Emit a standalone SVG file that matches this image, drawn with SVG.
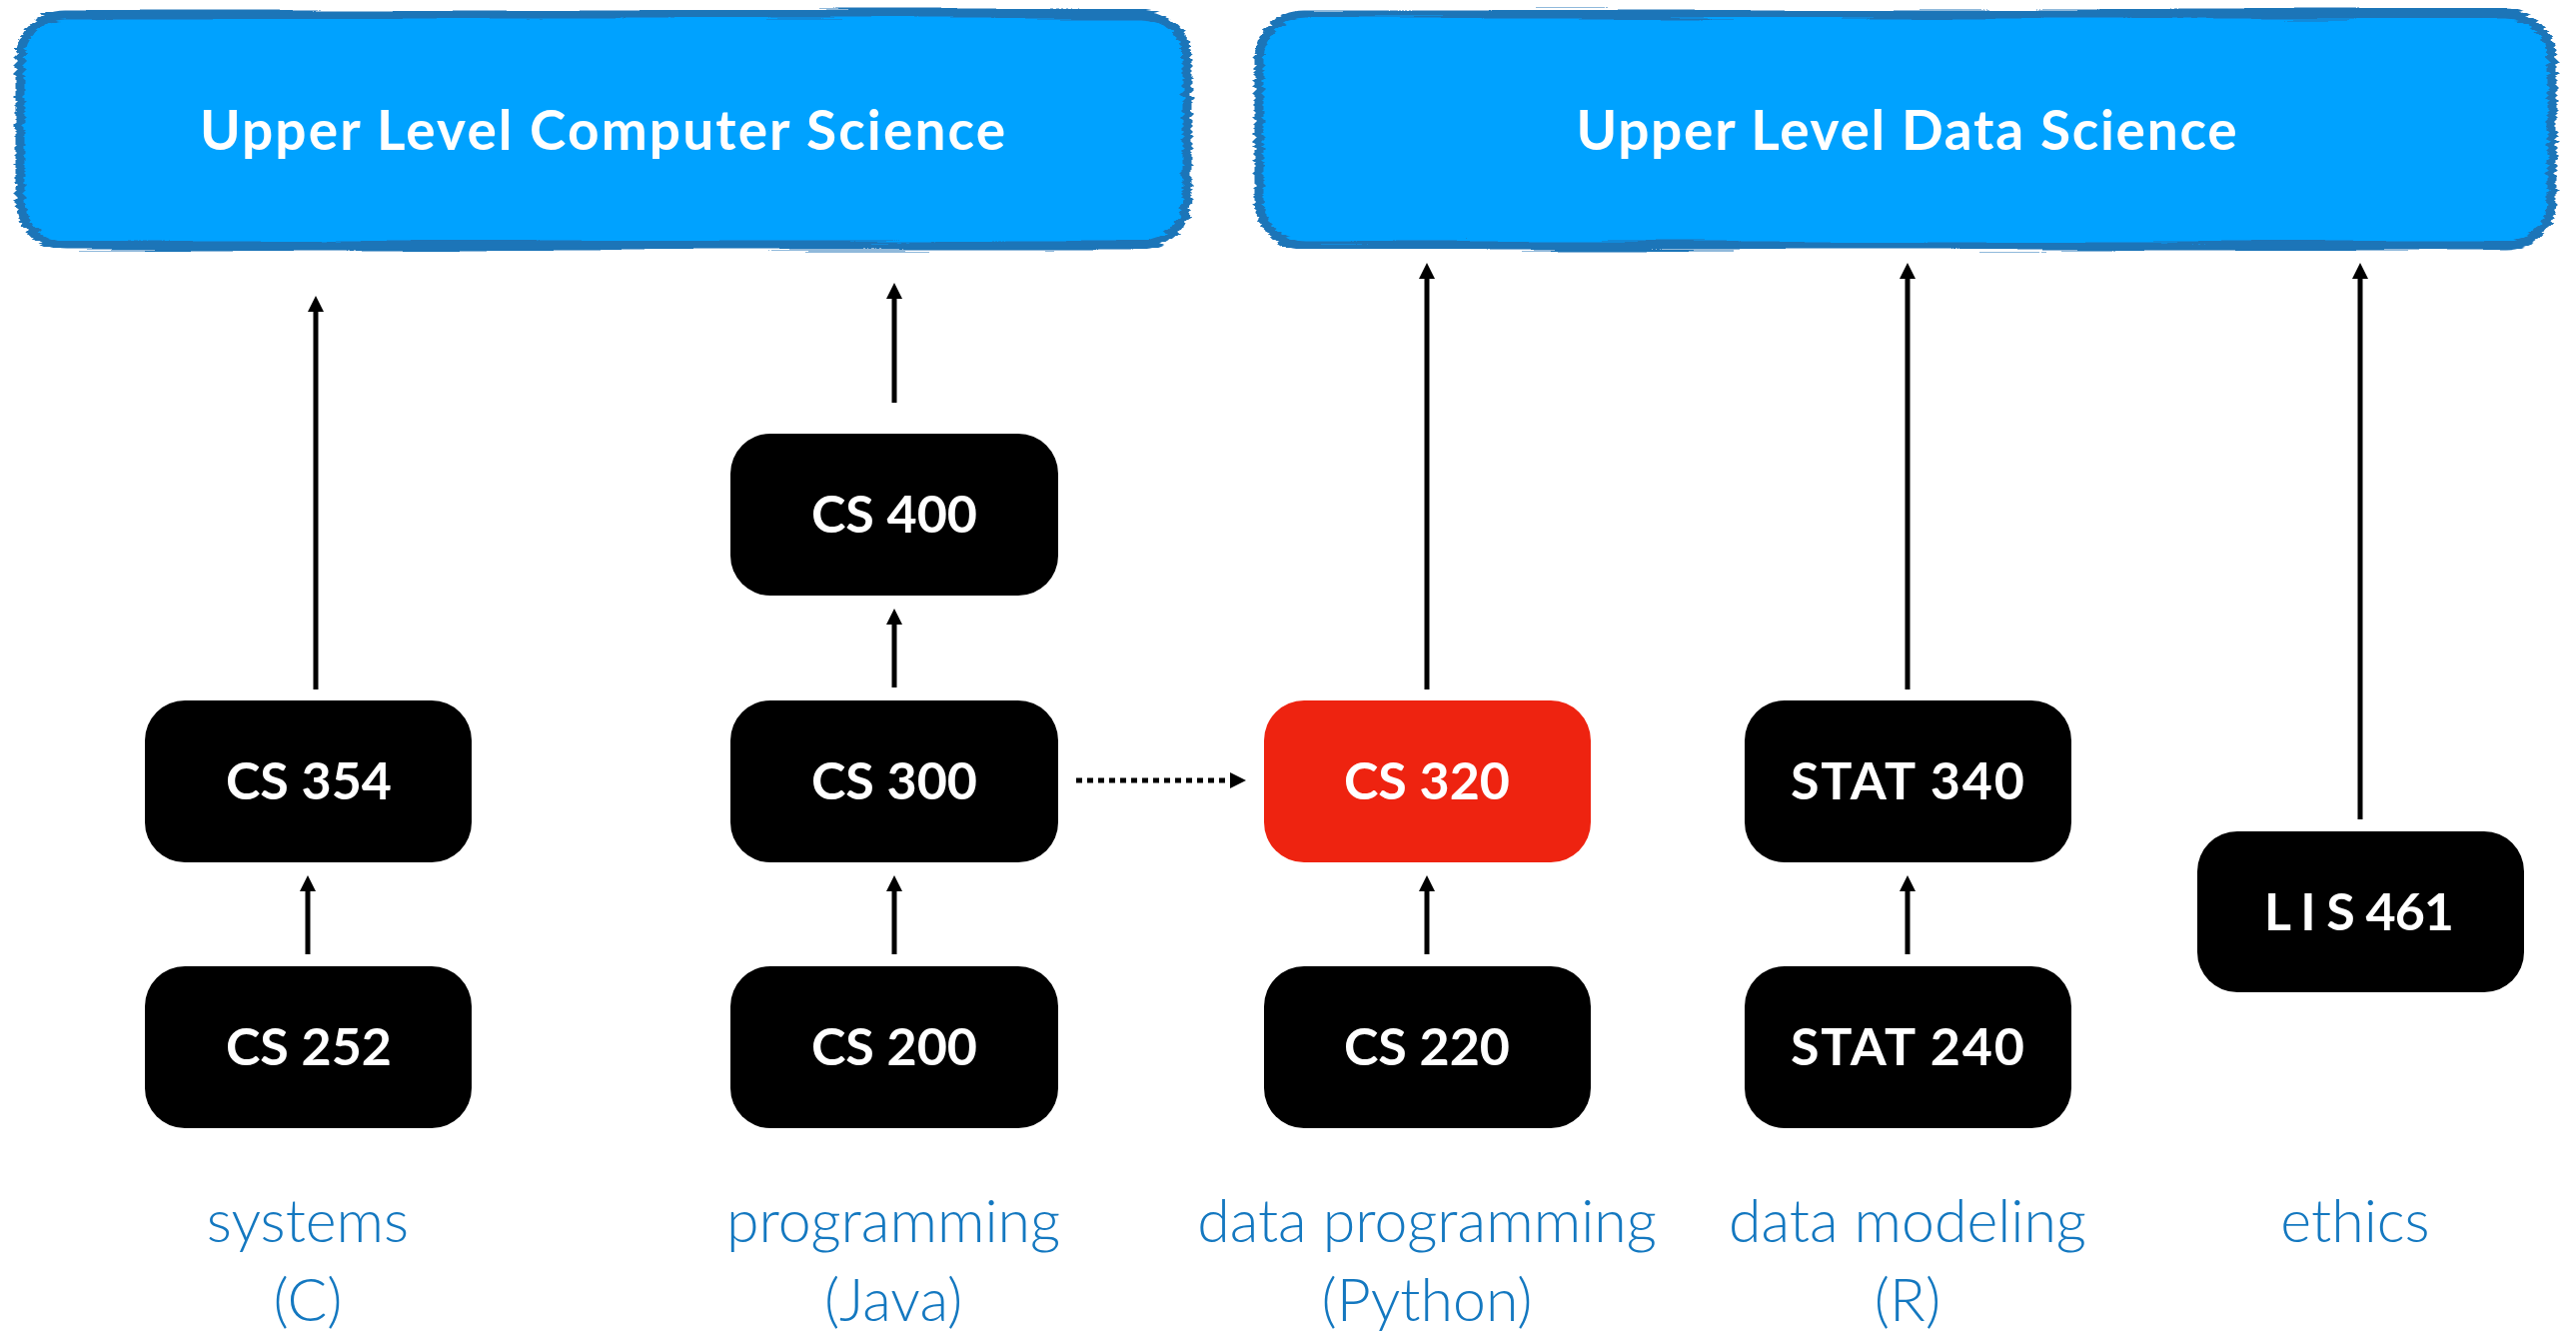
<svg xmlns="http://www.w3.org/2000/svg" width="2578" height="1334" viewBox="0 0 2578 1334">
  <style>
    .banner-fill { fill: #00A2FF; }
    .banner-edge { fill: none; stroke: #1F74B8; stroke-width: 9; }
    .banner-text { font-family: Lato, "Open Sans", "Liberation Sans", sans-serif; font-weight: 700; font-size: 55px; fill: #FFFFFF; text-anchor: middle; }
    .node rect { fill: #000000; }
    .node.hl rect { fill: #EE2310; }
    .node text { font-family: Lato, "Open Sans", "Liberation Sans", sans-serif; font-weight: 700; font-size: 52px; fill: #FFFFFF; text-anchor: middle; }
    .track { font-family: Lato, "Open Sans", "Liberation Sans", sans-serif; font-weight: 300; font-size: 59px; fill: #1478C0; text-anchor: middle; }
    .edge { stroke: #000000; stroke-width: 5; fill: none; }
    .edge.dotted { stroke-dasharray: 6 5; }
  </style>
  <defs>
    <marker id="head" viewBox="0 0 16 16" refX="0" refY="8" markerWidth="16" markerHeight="16" markerUnits="userSpaceOnUse" orient="auto">
      <path d="M0,0 L16,8 L0,16 z" fill="#000000"/>
    </marker>
    <filter id="brush" x="-3%" y="-10%" width="106%" height="120%">
      <feTurbulence type="fractalNoise" baseFrequency="0.004 0.25" numOctaves="2" seed="7" result="n"/>
      <feDisplacementMap in="SourceGraphic" in2="n" scale="10" xChannelSelector="R" yChannelSelector="G"/>
    </filter>
  </defs>

  <!-- destination banners -->
  <g id="upper-cs">
    <rect class="banner-fill" x="20" y="14" width="1168" height="232" rx="46"/>
    <rect class="banner-edge" x="20" y="14" width="1168" height="232" rx="46" filter="url(#brush)"/>
    <text class="banner-text" x="603" y="150" textLength="806" lengthAdjust="spacing">Upper Level Computer Science</text>
  </g>
  <g id="upper-ds">
    <rect class="banner-fill" x="1260" y="14" width="1294" height="232" rx="46"/>
    <rect class="banner-edge" x="1260" y="14" width="1294" height="232" rx="46" filter="url(#brush)"/>
    <text class="banner-text" x="1908" y="150" textLength="661" lengthAdjust="spacing">Upper Level Data Science</text>
  </g>

  <!-- connectors -->
  <g id="connectors">
    <line class="edge" x1="316" y1="690" x2="316" y2="312" marker-end="url(#head)"/>
    <line class="edge" x1="308" y1="955" x2="308" y2="892" marker-end="url(#head)"/>
    <line class="edge" x1="895" y1="403" x2="895" y2="299" marker-end="url(#head)"/>
    <line class="edge" x1="895" y1="688" x2="895" y2="625" marker-end="url(#head)"/>
    <line class="edge" x1="895" y1="955" x2="895" y2="892" marker-end="url(#head)"/>
    <line class="edge" x1="1428" y1="690" x2="1428" y2="279" marker-end="url(#head)"/>
    <line class="edge" x1="1428" y1="955" x2="1428" y2="892" marker-end="url(#head)"/>
    <line class="edge" x1="1909" y1="690" x2="1909" y2="279" marker-end="url(#head)"/>
    <line class="edge" x1="1909" y1="955" x2="1909" y2="892" marker-end="url(#head)"/>
    <line class="edge" x1="2362" y1="820" x2="2362" y2="279" marker-end="url(#head)"/>
    <line class="edge dotted" x1="1077" y1="781" x2="1231" y2="781" marker-end="url(#head)"/>
  </g>

  <!-- course nodes -->
  <g id="cs354" class="node"><rect x="145" y="701" width="327" height="162" rx="40"/><text x="309" y="800">CS 354</text></g>
  <g id="cs252" class="node"><rect x="145" y="967" width="327" height="162" rx="40"/><text x="309" y="1066">CS 252</text></g>
  <g id="cs400" class="node"><rect x="731" y="434" width="328" height="162" rx="40"/><text x="895" y="533">CS 400</text></g>
  <g id="cs300" class="node"><rect x="731" y="701" width="328" height="162" rx="40"/><text x="895" y="800">CS 300</text></g>
  <g id="cs200" class="node"><rect x="731" y="967" width="328" height="162" rx="40"/><text x="895" y="1066">CS 200</text></g>
  <g id="cs320" class="node hl"><rect x="1265" y="701" width="327" height="162" rx="40"/><text x="1428" y="800">CS 320</text></g>
  <g id="cs220" class="node"><rect x="1265" y="967" width="327" height="162" rx="40"/><text x="1428" y="1066">CS 220</text></g>
  <g id="stat340" class="node"><rect x="1746" y="701" width="327" height="162" rx="40"/><text x="1909" y="800" textLength="234" lengthAdjust="spacing">STAT 340</text></g>
  <g id="stat240" class="node"><rect x="1746" y="967" width="327" height="162" rx="40"/><text x="1909" y="1066" textLength="234" lengthAdjust="spacing">STAT 240</text></g>
  <g id="lis461" class="node"><rect x="2199" y="832" width="327" height="161" rx="40"/><text x="2361" y="931" textLength="190" lengthAdjust="spacing">L I S 461</text></g>

  <!-- track captions -->
  <g id="captions">
    <text class="track" x="308" y="1243">systems</text>
    <text class="track" x="308" y="1322">(C)</text>
    <text class="track" x="894" y="1243">programming</text>
    <text class="track" x="894" y="1322">(Java)</text>
    <text class="track" x="1428" y="1243">data programming</text>
    <text class="track" x="1428" y="1322">(Python)</text>
    <text class="track" x="1909" y="1243">data modeling</text>
    <text class="track" x="1909" y="1322">(R)</text>
    <text class="track" x="2357" y="1243">ethics</text>
  </g>
</svg>
